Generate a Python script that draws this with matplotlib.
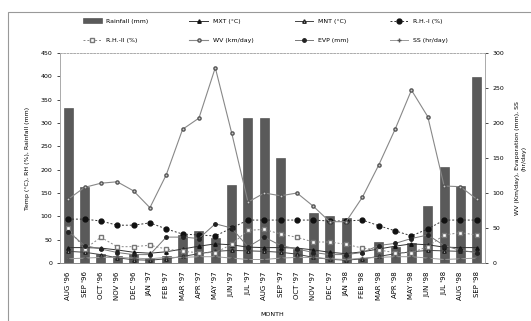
import matplotlib
matplotlib.use("Agg")
import matplotlib.pyplot as plt
from matplotlib.patches import Rectangle
import numpy as np

months = ["AUG '96", "SEP '96", "OCT '96", "NOV '96", "DEC '96", "JAN '97", "FEB '97",
          "MAR '97", "APR '97", "MAY '97", "JUN '97", "JUL '97", "AUG '97", "SEP '97",
          "OCT '97", "NOV '97", "DEC '97", "JAN '98", "FEB '98", "MAR '98", "APR '98",
          "MAY '98", "JUN '98", "JUL '98", "AUG '98", "SEP '98"]

rainfall = [332, 162, 20, 15, 20, 10, 15, 60, 68, 54, 167, 311, 311, 225,
            30, 107, 101, 97, 10, 45, 34, 42, 122, 206, 165, 399]
mxt = [33, 33, 32, 28, 23, 21, 24, 30, 36, 41, 39, 34, 33, 33,
       32, 28, 23, 20, 24, 30, 36, 41, 39, 34, 33, 33]
mnt = [25, 23, 18, 11, 7, 6, 9, 14, 20, 25, 27, 26, 25, 23,
       19, 12, 8, 6, 9, 14, 20, 24, 27, 26, 25, 24]
rh1 = [94, 94, 90, 81, 81, 86, 73, 62, 60, 58, 75, 92, 92, 92,
       92, 92, 90, 90, 92, 80, 69, 58, 73, 92, 92, 92]
rh2 = [75, 30, 55, 35, 35, 38, 30, 25, 22, 22, 40, 70, 72, 62,
       55, 45, 45, 40, 32, 28, 22, 22, 35, 60, 65, 60]
wv = [91, 108, 114, 116, 103, 79, 126, 191, 207, 279, 186, 87, 100, 96,
      100, 81, 59, 59, 94, 140, 191, 247, 209, 110, 109, 91]
evp = [45, 25, 20, 15, 12, 12, 37, 37, 35, 56, 50, 23, 37, 25,
       20, 15, 12, 12, 15, 25, 28, 35, 40, 25, 18, 15]
ss = [6, 7, 8, 8, 7, 6, 8, 8, 9, 9, 7, 5, 5, 7,
      8, 8, 6, 5, 7, 8, 9, 9, 7, 5, 6, 7]

W, H = 531, 321
fig = plt.figure(figsize=(W / 100, H / 100), dpi=100)
fig.patches.append(Rectangle((8 / W, -0.01), 1, 1 - 12 / H + 0.01, transform=fig.transFigure,
                             fill=False, edgecolor="#999999", lw=0.8))
ax = fig.add_axes([60 / W, 1 - 263 / H, 425 / W, 210 / H])
ax2 = ax.twinx()

x = np.arange(len(months))
bars = ax.bar(x, rainfall, width=0.55, color="#5a5a5a", edgecolor="#444444", lw=0.4,
              label="Rainfall (mm)", zorder=1)
l_mxt, = ax.plot(x, mxt, "-", color="#333333", lw=0.7, marker="^", ms=2.5,
                 mfc="#111111", mec="#111111", label="MXT (°C)")
l_mnt, = ax.plot(x, mnt, "-", color="#444444", lw=0.7, marker="^", ms=2.5,
                 mfc="white", mec="#222222", label="MNT (°C)")
l_rh1, = ax.plot(x, rh1, "--", color="#333333", lw=0.7, marker="o", ms=3.5,
                 mfc="#111111", mec="#111111", label="R.H.-I (%)", dashes=(2, 2))
l_rh2, = ax.plot(x, rh2, "--", color="#888888", lw=0.7, marker="s", ms=3,
                 mfc="white", mec="#777777", label="R.H.-II (%)", dashes=(2, 2))
l_wv, = ax2.plot(x, wv, "-", color="#888888", lw=0.8, marker="o", ms=2.3,
                 mfc="#cccccc", mec="#555555", label="WV (km/day)")
l_evp, = ax2.plot(x, evp, "-", color="#777777", lw=0.7, marker="o", ms=2.5,
                  mfc="#222222", mec="#222222", label="EVP (mm)")
l_ss, = ax2.plot(x, ss, "-", color="#999999", lw=0.7, marker="+", ms=3,
                 mec="#555555", label="SS (hr/day)")

ax.set_xlim(-0.5, len(months) - 0.5)
ax.set_ylim(0, 450)
ax.set_yticks(np.arange(0, 451, 50))
ax2.set_ylim(0, 300)
ax2.set_yticks(np.arange(0, 301, 50))
ax.set_xticks(x)
ax.set_xticklabels(months, rotation=90, fontsize=5)
ax.tick_params(axis="y", labelsize=4.5, length=2, width=0.5)
ax2.tick_params(axis="y", labelsize=4.5, length=2, width=0.5)
ax.tick_params(axis="x", length=0, pad=6)
for a in (ax, ax2):
    a.spines["top"].set_linestyle((0, (2, 2)))
    a.spines["top"].set_color("#aaaaaa")
    a.spines["bottom"].set_color("#888888")
    a.spines["left"].set_color("#aaaaaa")
    a.spines["right"].set_color("#aaaaaa")
    for s in a.spines.values():
        s.set_linewidth(0.6)
ax.set_ylabel("Temp (°C), RH (%), Rainfall (mm)", fontsize=4.5, labelpad=8)
ax2.set_ylabel("WV (Km/day), Evaporation (mm), SS\n(hr/day)", fontsize=4.5, labelpad=8)
ax.set_xlabel("MONTH", fontsize=4.5, labelpad=9)

handles = [bars, l_rh2, l_mxt, l_wv, l_mnt, l_evp, l_rh1, l_ss]
fig.legend(handles=handles, labels=[h.get_label() for h in handles], ncol=4,
           loc="upper center", bbox_to_anchor=(0.5, 0.96), fontsize=4.5,
           frameon=False, columnspacing=6.5, handlelength=3, labelspacing=2.2)

fig.savefig("out.png", dpi=100)
